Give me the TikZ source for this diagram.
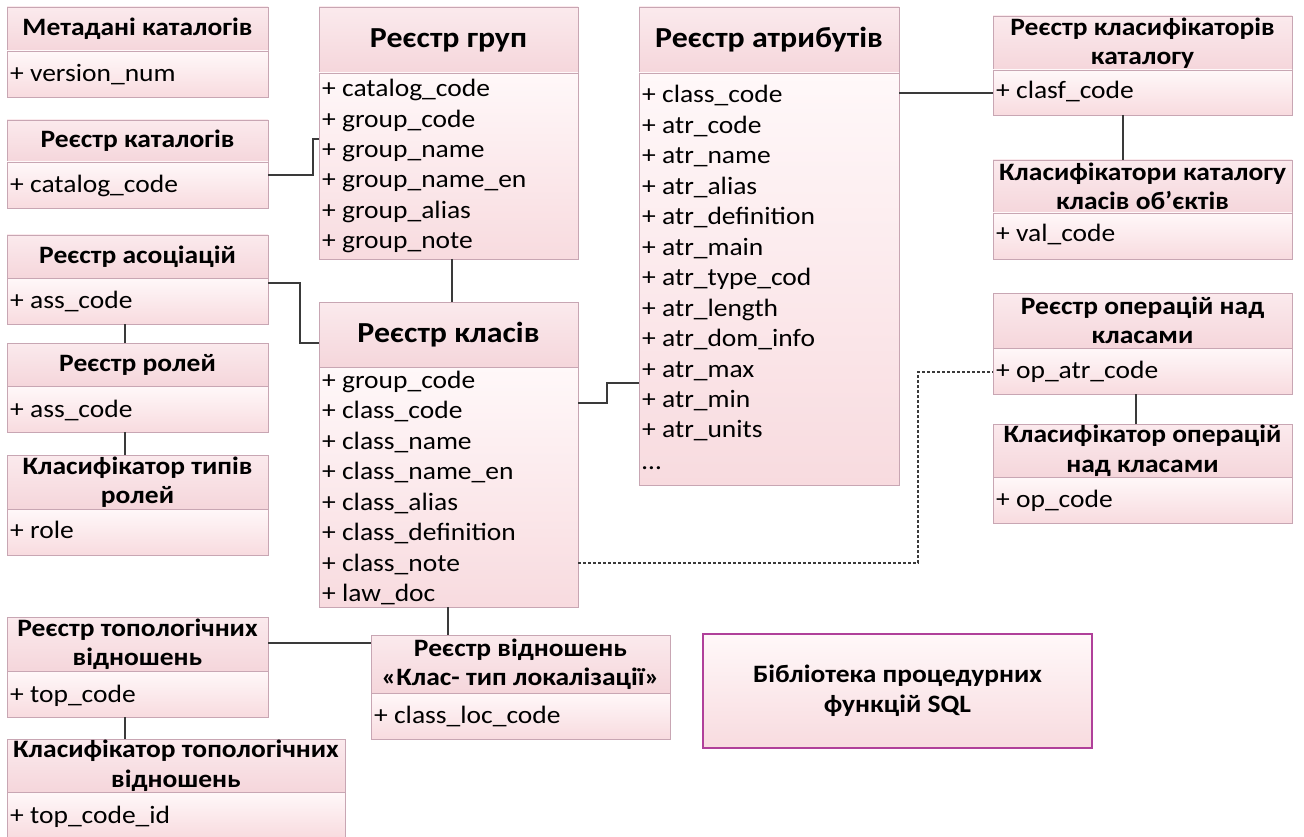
\documentclass[tikz,border=0pt]{standalone}
\usepackage{fontspec}
\setmainfont{Carlito}[FakeStretch=1.1]
\usetikzlibrary{shadows}
\definecolor{hdrtop}{HTML}{FBEAED}
\definecolor{hdrbot}{HTML}{F5D6DB}
\definecolor{bdytop}{HTML}{FFF8F9}
\definecolor{bdybot}{HTML}{F8DBDF}
\definecolor{boxborder}{HTML}{C8A6B3}
\definecolor{linecol}{HTML}{3A3A3A}
\definecolor{libborder}{HTML}{B0409A}
\newcommand{\rowfnt}{\fontsize{25}{29}\selectfont}
\newcommand{\ttlfnt}{\fontsize{25}{29.5}\selectfont\bfseries}
\newcommand{\bigttlfnt}{\fontsize{29}{34}\selectfont\bfseries}
\tikzset{
  boxbase/.style={draw=boxborder, line width=0.8pt, inner sep=0pt, outer sep=0pt, anchor=north west,
    drop shadow={shadow xshift=1.2pt, shadow yshift=-1.2pt, opacity=0.25}},
  hdr/.style={boxbase, top color=hdrtop, bottom color=hdrbot, align=center},
  bdy/.style={boxbase, top color=bdytop, bottom color=bdybot},
  rowtxt/.style={anchor=base west, inner sep=0pt, font=\rowfnt},
  conn/.style={draw=linecol, line width=1.3pt},
  dconn/.style={conn, line width=1.1pt, dash pattern=on 3pt off 2pt}
}
% #1 font, #2 name, #3 x1, #4 y1, #5 x2, #6 ydiv, #7 y2, #8 title
\newcommand{\umlbox}[8][\ttlfnt]{%
  \node[hdr, font=#1, minimum width={#5pt-#3pt}, minimum height={#6pt-#4pt}] (#2h) at (#3,#4) {#8};
  \node[bdy, minimum width={#5pt-#3pt}, minimum height={#7pt-#6pt}] (#2) at (#3,#6) {};
}
% #1 name, #2 x, #3 first baseline, #4 step, #5 list
\newcommand{\rowsat}[5]{%
  \foreach \t [count=\i] in {#5} {\node[rowtxt] (#1r\i) at ({#2+3}, {#3+(\i-1)*#4}) {+ \t};}
}
\begin{document}
\begin{tikzpicture}[x=1pt, y=-1pt]
\useasboundingbox (0,0) rectangle (1304,837);
% left column
\umlbox{meta}{7}{7}{268}{51}{97}{Метадані каталогів}
\rowsat{meta}{7}{82}{30}{version\_num}
\umlbox{cat}{7}{120}{268}{162}{208}{Реєстр каталогів}
\rowsat{cat}{7}{193}{30}{catalog\_code}
\umlbox{assoc}{7}{235}{268}{278}{324}{Реєстр асоціацій}
\rowsat{assoc}{7}{308}{30}{ass\_code}
\umlbox{roles}{7}{343}{268}{386}{432}{Реєстр ролей}
\rowsat{roles}{7}{417}{30}{ass\_code}
\umlbox{roletype}{7}{455}{268}{509}{555}{Класифікатор типів\\ролей}
\rowsat{roletype}{7}{538}{30}{role}
\umlbox{topo}{7}{617}{268}{671}{717}{Реєстр топологічних\\відношень}
\rowsat{topo}{7}{702}{30}{top\_code}
\umlbox{topocls}{7}{739}{345}{792}{838}{Класифікатор топологічних\\відношень}
\rowsat{topocls}{7}{823}{30}{top\_code\_id}
% groups
\umlbox[\bigttlfnt]{grp}{319}{7}{578}{73}{259}{Реєстр груп}
\rowsat{grp}{319}{97}{30.3}{catalog\_code, group\_code, group\_name, group\_name\_en, group\_alias, group\_note}
% classes
\umlbox[\bigttlfnt]{cls}{319}{302}{578}{367}{607}{Реєстр класів}
\rowsat{cls}{319}{388}{30.57}{group\_code, class\_code, class\_name, class\_name\_en, class\_alias, class\_definition, class\_note, law\_doc}
% attributes
\umlbox[\bigttlfnt]{atr}{639}{7}{899}{73}{485}{Реєстр атрибутів}
\rowsat{atr}{639}{103}{30.45}{class\_code, atr\_code, atr\_name, atr\_alias, atr\_definition, atr\_main, atr\_type\_cod, atr\_length, atr\_dom\_info, atr\_max, atr\_min, atr\_units}
\node[rowtxt] (atrdots) at (642,469) {…};
% right column
\umlbox{clsf}{993}{16}{1292}{70}{115}{Реєстр класифікаторів\\каталогу}
\rowsat{clsf}{993}{99}{30}{clasf\_code}
\umlbox{clsfval}{993}{160}{1292}{213}{259}{Класифікатори каталогу\\класів об’єктів}
\rowsat{clsfval}{993}{242}{30}{val\_code}
\umlbox{op}{993}{293}{1292}{348}{394}{Реєстр операцій над\\класами}
\rowsat{op}{993}{378}{30}{op\_atr\_code}
\umlbox{opcls}{993}{424}{1292}{477}{523}{Класифікатор операцій\\над класами}
\rowsat{opcls}{993}{507}{30}{op\_code}
% relation box
\umlbox{rel}{371}{635}{670}{693}{739}{Реєстр відношень\\«Клас- тип локалізації»}
\node[rowtxt] (relr1) at (374,723) {+ class\_loc\_code};
% library
\node[boxbase, draw=libborder, line width=1.2pt, top color=bdytop, bottom color=bdybot, align=center,
  font=\fontsize{25}{30}\selectfont\bfseries, minimum width=389pt, minimum height=114pt] (lib) at (703,634)
  {Бібліотека процедурних\\функцій SQL};
% connectors
\draw[conn] (cat.east |- 0,175) -- (313,175) |- (grp.west |- 0,139);
\draw[conn] (grp.south -| 452,0) -- (clsh.north -| 452,0);
\draw[conn] (assoc.east |- 0,283) -- (300,283) |- (clsh.west |- 0,343);
\draw[conn] (assoc.south -| 125,0) -- (rolesh.north -| 125,0);
\draw[conn] (roles.south -| 125,0) -- (roletypeh.north -| 125,0);
\draw[conn] (cls.east |- 0,403) -- (607,403) |- (atr.west |- 0,383);
\draw[conn] (atr.east |- 0,93) -- (clsf.west |- 0,93);
\draw[conn] (clsf.south -| 1123,0) -- (clsfvalh.north -| 1123,0);
\draw[dconn] (cls.east |- 0,563) -- (918,563) |- (op.west |- 0,372);
\draw[conn] (op.south -| 1136,0) -- (opclsh.north -| 1136,0);
\draw[conn] (topoh.east |- 0,643) -- (relh.west |- 0,643);
\draw[conn] (cls.south -| 448,0) -- (relh.north -| 448,0);
\draw[conn] (topo.south -| 125,0) -- (topoclsh.north -| 125,0);
\end{tikzpicture}
\end{document}
